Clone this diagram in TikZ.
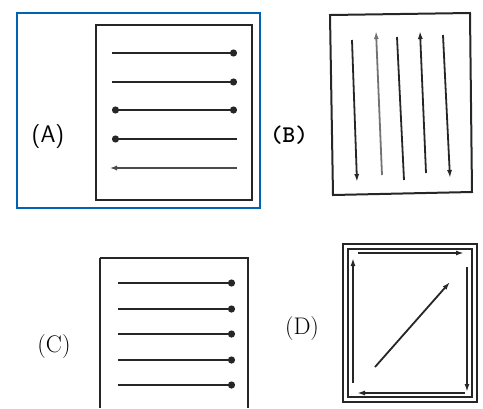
\documentclass[tikz,border=0pt]{standalone}
\usetikzlibrary{arrows.meta}
\tikzset{
    >={Circle[length=7pt]},
    % Colors
    frameBlue/.style={draw=blue!45!cyan!70!black, line width=2.4pt},
    % Shapes
    sheet/.style={draw=black!85, line width=2pt},
    lbl/.style={font=\fontsize{24}{28}\selectfont, inner sep=0pt},
    % Flow
    flow/.style={line width=2.4pt, black!85},
    thinflow/.style={line width=1.8pt, black!85},
    tip/.style={-{Latex[length=8pt, width=5pt]}}
}
\begin{document}
\begin{tikzpicture}[x=1pt, y=-1pt]
\useasboundingbox (0,0) rectangle (483,408);

% (A) sheet with horizontal lines
\draw[frameBlue] (17,13) rectangle (260,208);
\draw[sheet] (96,25) rectangle (252,200);
\node[lbl, font=\fontsize{24}{28}\sffamily] (labA) at (48,137) {(A)};
\draw[flow, ->] (112,53) -- (237,53);
\draw[flow, ->] (112,82) -- (237,82);
\draw[flow, <->] (112,110) -- (237,110);
\draw[flow, <-] (112,139) -- (237,139);
\draw[flow, black!70, {Latex[length=7pt]}-] (110,168) -- (237,168);

% (B) sheet with vertical lines
\draw[sheet] (330,15) -- (470,13) -- (472,192) -- (333,195) -- cycle;
\node[lbl, font=\fontsize{24}{28}\ttfamily\bfseries] (labB) at (289,135) {(B)};
\draw[thinflow, tip] (352,40) -- (357,182);
\draw[thinflow, black!55, tip] (382,175) -- (376,31);
\draw[thinflow] (397,37) -- (404,180);
\draw[thinflow, tip] (426,173) -- (420,31);
\draw[thinflow, tip] (443,35) -- (450,178);

% (C) sheet, all lines to the right
\draw[sheet] (100,258) -- (248,258) -- (248,408);
\draw[sheet] (100,258) -- (100,408);
\node[lbl] (labC) at (54,347) {(C)};
\foreach \yy in {283,309,334,360,385}
    \draw[flow, ->] (118,\yy) -- (235,\yy);

% (D) double frame, loop plus diagonal
\draw[sheet] (343,244) rectangle (477,402);
\draw[line width=1.2pt, black!85] (348,249) rectangle (472,397);
\node[lbl] (labD) at (302,329) {(D)};
\draw[thinflow, tip] (358,253) -- (464,253);
\draw[thinflow, tip] (467,267) -- (467,392);
\draw[thinflow, tip] (465,393) -- (357,393);
\draw[thinflow, tip] (353,383) -- (353,258);
\draw[thinflow, tip] (375,367) -- (450,282);

\end{tikzpicture}
\end{document}
